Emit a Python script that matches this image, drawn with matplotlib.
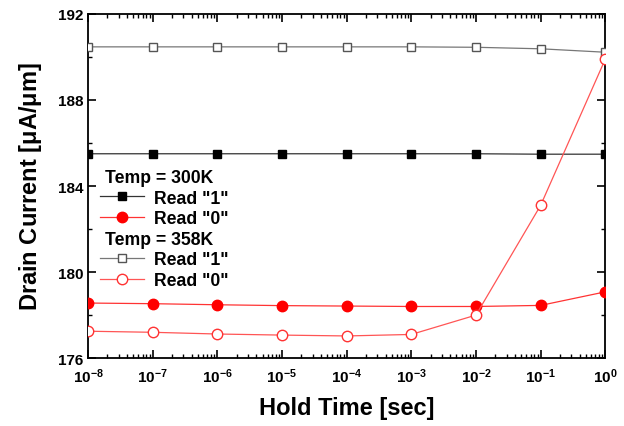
import numpy as np
import matplotlib.pyplot as plt
from matplotlib.lines import Line2D
from matplotlib.ticker import LogLocator, NullFormatter, MultipleLocator

plt.rcParams['font.family'] = ['Liberation Sans', 'DejaVu Sans']
plt.rcParams['font.weight'] = 'bold'
plt.rcParams['mathtext.default'] = 'bf'

hold_time = [1e-8, 1e-7, 1e-6, 1e-5, 1e-4, 1e-3, 1e-2, 1e-1, 1e0]
read1_300 = [185.5, 185.5, 185.5, 185.5, 185.5, 185.5, 185.5, 185.48, 185.48]
read0_300 = [178.56, 178.53, 178.48, 178.44, 178.42, 178.4, 178.4, 178.45, 179.08]
read1_358 = [190.47, 190.47, 190.47, 190.47, 190.47, 190.47, 190.45, 190.38, 190.22]
read0_358 = [177.25, 177.2, 177.12, 177.07, 177.03, 177.1, 178.0, 183.1, 189.9]

fig = plt.figure(figsize=(6.24, 4.27), dpi=100)
ax = fig.add_axes([0.141, 0.159, 0.829, 0.806])

sty_1_300 = dict(color='#333333', lw=0.9, marker='s', ms=6, mfc='black', mec='black')
sty_0_300 = dict(color='#ff3333', lw=0.9, marker='o', ms=7.5, mfc='red', mec='red')
sty_1_358 = dict(color='#777777', lw=0.9, marker='s', ms=6, mfc='white', mec='#555555')
sty_0_358 = dict(color='#ff5555', lw=0.9, marker='o', ms=7.5, mfc='white', mec='#ff3333')

ax.plot(hold_time, read1_300, zorder=3, **sty_1_300)
ax.plot(hold_time, read0_300, zorder=3, **sty_0_300)
ax.plot(hold_time, read1_358, zorder=3, **sty_1_358)
ax.plot(hold_time, read0_358, zorder=3, **sty_0_358)

ax.set_xscale('log')
ax.set_xlim(1e-8, 1e0)
ax.set_ylim(176, 192)
ax.yaxis.set_major_locator(MultipleLocator(4))
ax.yaxis.set_minor_locator(MultipleLocator(2))
ax.xaxis.set_major_locator(LogLocator(base=10, numticks=20))
ax.xaxis.set_minor_locator(LogLocator(base=10, subs=np.arange(2, 10), numticks=20))
ax.xaxis.set_minor_formatter(NullFormatter())

ax.tick_params(which='both', direction='in', top=True, right=True, labelsize=11)
ax.tick_params(which='major', length=6, width=1.2)
ax.tick_params(which='minor', length=3, width=1)
ax.tick_params(axis='x', pad=6)
for s in ax.spines.values():
    s.set_linewidth(1.3)
for lab in ax.get_xticklabels() + ax.get_yticklabels():
    lab.set_fontweight('bold')

ax.set_xlabel('Hold Time [sec]', fontsize=17, fontweight='bold', labelpad=8)
ax.set_ylabel(r'Drain Current [$\mathregular{\mu}$A/$\mathregular{\mu}$m]', fontsize=17,
              fontweight='bold', labelpad=10)

blank = Line2D([], [], linestyle='none', marker='none')
handles = [blank, Line2D([], [], **sty_1_300), Line2D([], [], **sty_0_300),
           blank, Line2D([], [], **sty_1_358), Line2D([], [], **sty_0_358)]
labels = ['Temp = 300K', 'Read "1"', 'Read "0"', 'Temp = 358K', 'Read "1"', 'Read "0"']
leg = ax.legend(handles, labels, loc='upper left', bbox_to_anchor=(0.0, 0.585),
                frameon=False, fontsize=12.7, handlelength=2.5, labelspacing=0.2,
                handletextpad=0.55, borderaxespad=0.3)
for t, txt in zip(leg.get_texts(), labels):
    t.set_fontweight('bold')
    if txt.startswith('Temp'):
        t.set_position((-49, 0))

fig.savefig('out.png', dpi=100)
